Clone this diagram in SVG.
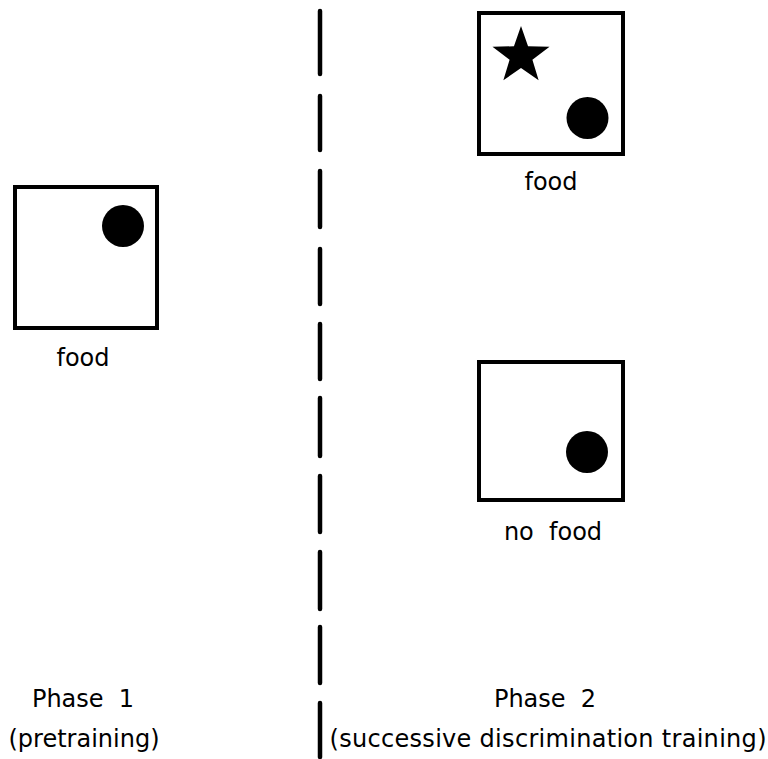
<svg xmlns="http://www.w3.org/2000/svg" width="768" height="759" viewBox="0 0 768 759">
  <style>
    .box { fill: #fff; stroke: #000; stroke-width: 4; }
    .dot { fill: #000; }
    .lbl { font-family: "DejaVu Sans", "Liberation Sans", sans-serif; font-size: 24px; fill: #000; text-anchor: middle; }
    .divider line { stroke: #000; stroke-width: 4.5; stroke-linecap: round; }
  </style>
  <rect width="768" height="759" fill="#fff"/>

  <!-- dashed divider between the two phases -->
  <g id="connectors" class="divider">
    <line x1="320" y1="11" x2="320" y2="74"/>
    <line x1="320" y1="96" x2="320" y2="150"/>
    <line x1="320" y1="171" x2="320" y2="227"/>
    <line x1="320" y1="249" x2="320" y2="304"/>
    <line x1="320" y1="324" x2="320" y2="379"/>
    <line x1="320" y1="398" x2="320" y2="456"/>
    <line x1="320" y1="476" x2="320" y2="532"/>
    <line x1="320" y1="552" x2="320" y2="609"/>
    <line x1="320" y1="627" x2="320" y2="683"/>
    <line x1="320" y1="703" x2="320" y2="757"/>
  </g>

  <!-- Phase 1: single box with food dot -->
  <g id="pretraining-box">
    <rect class="box" x="15" y="187" width="142" height="141"/>
    <circle class="dot" cx="123" cy="226" r="21"/>
    <text class="lbl" x="83" y="366">food</text>
  </g>

  <!-- Phase 2: star + dot, reinforced -->
  <g id="star-box">
    <rect class="box" x="479" y="13" width="144" height="141"/>
    <polygon class="dot" points="521,26 528.05,46.29 549.53,46.73 532.41,59.71 538.63,80.27 521,68 503.37,80.27 509.59,59.71 492.47,46.73 513.95,46.29"/>
    <circle class="dot" cx="587.5" cy="118" r="21"/>
    <text class="lbl" x="551" y="190">food</text>
  </g>

  <!-- Phase 2: dot alone, not reinforced -->
  <g id="dot-box">
    <rect class="box" x="479" y="362" width="144" height="138"/>
    <circle class="dot" cx="587" cy="452" r="21"/>
    <text class="lbl" x="553" y="540" xml:space="preserve">no  food</text>
  </g>

  <!-- phase captions -->
  <g id="phase1-label">
    <text class="lbl" x="83" y="707" xml:space="preserve">Phase  1</text>
    <text class="lbl" x="84" y="747">(pretraining)</text>
  </g>
  <g id="phase2-label">
    <text class="lbl" x="545" y="707" xml:space="preserve">Phase  2</text>
    <text class="lbl" x="548" y="747" textLength="437" lengthAdjust="spacing">(successive discrimination training)</text>
  </g>
</svg>
